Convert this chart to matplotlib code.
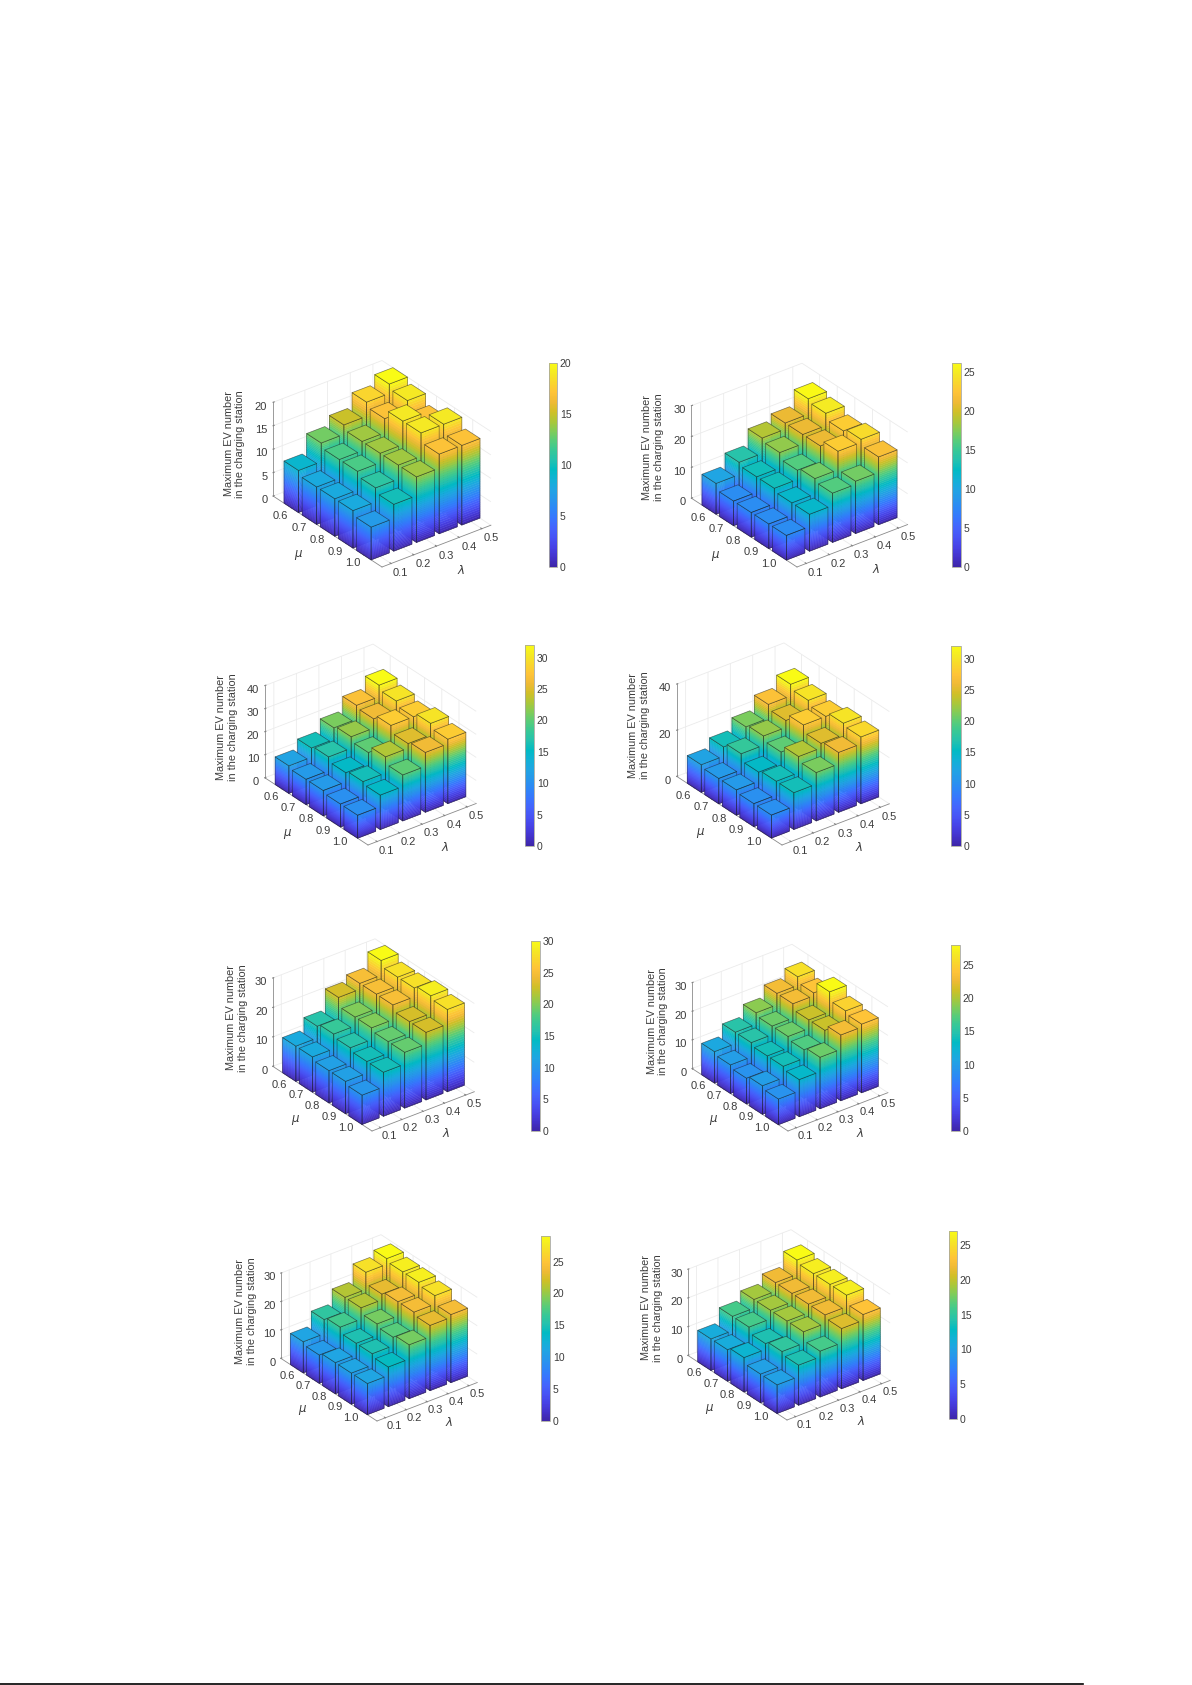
"""Eight 3-D bar panels: maximum EV number in the charging station vs lambda and mu."""

import numpy as np
import matplotlib
matplotlib.use("Agg")
import matplotlib.pyplot as plt
from matplotlib.cm import ScalarMappable
from matplotlib.colors import LinearSegmentedColormap, Normalize
from matplotlib.lines import Line2D
from mpl_toolkits.mplot3d import proj3d
from mpl_toolkits.mplot3d.art3d import Poly3DCollection

plt.rcParams["font.family"] = ["Liberation Sans", "DejaVu Sans"]
plt.rcParams["mathtext.fontset"] = "dejavusans"

FIG_W, FIG_H = 1192, 1685
TEXT_COLOR = "#3c3c3c"
GRID_COLOR = "#ebebeb"

lambda_labels = ["0.1", "0.2", "0.3", "0.4", "0.5"]
mu_labels = ["0.6", "0.7", "0.8", "0.9", "1.0"]
z_label = "Maximum EV number\nin the charging station"

# rows: lambda 0.1 -> 0.5, columns: mu 0.6 -> 1.0
values_1 = [[9, 8, 8, 8, 7], [13, 12, 12, 11, 10], [15, 14, 14, 14, 14],
            [18, 17, 19, 19, 17], [20, 19, 17, 19, 17]]
values_2 = [[10, 8, 8, 8, 8], [14, 13, 13, 12, 12], [19, 18, 16, 17, 16],
            [21, 21, 21, 23, 17], [26, 25, 23, 24, 22]]
values_3 = [[12, 11, 11, 10, 10], [16, 17, 15, 16, 15], [21, 22, 20, 23, 20],
            [27, 26, 28, 25, 26], [32, 30, 28, 30, 28]]
values_4 = [[12, 11, 11, 10, 10], [16, 18, 15, 16, 16], [21, 22, 20, 23, 21],
            [27, 25, 28, 25, 26], [32, 30, 28, 30, 29]]
values_5 = [[12, 12, 11, 11, 10], [16, 17, 16, 15, 15], [23, 20, 20, 19, 19],
            [25, 25, 25, 23, 23], [30, 28, 28, 29, 28]]
values_6 = [[11, 10, 9, 10, 9], [15, 15, 14, 14, 13], [19, 18, 18, 17, 18],
            [23, 23, 21, 21, 23], [26, 24, 28, 25, 24]]
values_7 = [[11, 10, 11, 11, 11], [16, 17, 15, 15, 14], [21, 21, 19, 18, 19],
            [27, 23, 24, 24, 23], [29, 28, 28, 27, 24]]
values_8 = [[11, 11, 12, 10, 10], [16, 16, 14, 15, 14], [19, 19, 19, 19, 16],
            [22, 22, 22, 22, 21], [27, 26, 26, 26, 23]]

z_ticks = [[0, 5, 10, 15, 20], [0, 10, 20, 30], [0, 10, 20, 30, 40], [0, 20, 40],
           [0, 10, 20, 30], [0, 10, 20, 30], [0, 10, 20, 30], [0, 10, 20, 30]]
cbar_top = [20, 26.2, 32, 32, 30, 28, 29, 27]
cbar_ticks = [[0, 5, 10, 15, 20], [0, 5, 10, 15, 20, 25], [0, 5, 10, 15, 20, 25, 30],
              [0, 5, 10, 15, 20, 25, 30], [0, 5, 10, 15, 20, 25, 30],
              [0, 5, 10, 15, 20, 25], [0, 5, 10, 15, 20, 25], [0, 5, 10, 15, 20, 25]]

# floor corners of each 3-D box in image pixels: front, right, left x, z-axis height
front_px = [(382, 567), (797, 567), (368, 845), (782, 845),
            (372, 1131), (788, 1131), (377, 1421), (787, 1420)]
right_px = [(490, 523), (907, 523), (476, 803), (889, 803),
            (474, 1091), (888, 1093), (477, 1382), (890, 1380)]
left_x_px = [274, 692, 265, 677, 273, 692, 281, 688]
z_height_px = [93, 92, 92, 92, 88, 86, 85, 86]
# colourbar boxes in image pixels: left, top, right, bottom
cbar_px = [(549, 363, 557, 567), (952, 363, 961, 567), (525, 645, 534, 846),
           (951, 646, 961, 846), (531, 941, 540, 1131), (951, 945, 960, 1131),
           (541, 1236, 550, 1421), (949, 1231, 957, 1419)]

parula = [(.2422, .1504, .6603), (.2647, .1978, .7952), (.2783, .2559, .8991),
          (.2810, .3228, .9579), (.2699, .3892, .9906), (.2206, .4603, .9973),
          (.1786, .5289, .9682), (.1540, .5902, .9218), (.1248, .6459, .8883),
          (.0689, .6948, .8394), (.0067, .7312, .7660), (.1408, .7584, .6842),
          (.2161, .7843, .5923), (.3406, .8008, .4789), (.5044, .7993, .3480),
          (.6720, .7793, .2227), (.8203, .7498, .1535), (.9393, .7288, .2100),
          (.9970, .7659, .2199), (.9786, .8386, .1766), (.9597, .9135, .1423),
          (.9769, .9839, .0805)]
cmap = LinearSegmentedColormap.from_list("parula", parula, N=256)

X_LIM = (0.6, 5.4)
Y_LIM = (6.0, 0.0)   # mu grows toward the viewer
BAR_W = 0.8


def px_rect(left, top, right, bottom):
    return [left / FIG_W, 1 - bottom / FIG_H, (right - left) / FIG_W, (bottom - top) / FIG_H]


def to_px(ax, x, y, z):
    xs, ys, _ = proj3d.proj_transform(x, y, z, ax.get_proj())
    return ax.transData.transform((xs, ys))


def draw_bar(ax, x, y, value, norm, rank):
    x0, x1 = x - BAR_W / 2, x + BAR_W / 2
    y0, y1 = y - BAR_W / 2, y + BAR_W / 2
    levels = np.linspace(0, value, 36)
    polys, colors = [], []
    for lo, hi in zip(levels[:-1], levels[1:]):
        colour = cmap(norm((lo + hi) / 2))
        polys.append([(x0, y0, lo), (x0, y1, lo), (x0, y1, hi), (x0, y0, hi)])
        polys.append([(x0, y1, lo), (x1, y1, lo), (x1, y1, hi), (x0, y1, hi)])
        colors += [colour, colour]
    sides = Poly3DCollection(polys, facecolors=colors, edgecolors=colors, linewidths=0.3)
    sides.set_zorder(rank)
    ax.add_collection3d(sides, autolim=False)

    top = [(x0, y0, value), (x1, y0, value), (x1, y1, value), (x0, y1, value)]
    outline = Poly3DCollection(
        [top,
         [(x0, y0, 0), (x0, y1, 0), (x0, y1, value), (x0, y0, value)],
         [(x0, y1, 0), (x1, y1, 0), (x1, y1, value), (x0, y1, value)]],
        facecolors=[cmap(norm(value)), (0, 0, 0, 0), (0, 0, 0, 0)],
        edgecolors=[(0.1, 0.1, 0.1, 0.55)], linewidths=0.5)
    outline.set_zorder(rank + 0.5)
    ax.add_collection3d(outline, autolim=False)


def draw_panel(fig, n, values):
    ticks = z_ticks[n]
    z_top = ticks[-1]
    ax = fig.add_axes(px_rect(0, 0, 300, 300), projection="3d", proj_type="ortho",
                      computed_zorder=False)
    ax.patch.set_alpha(0)
    ax.set_xlim(*X_LIM, view_margin=0)
    ax.set_ylim(*Y_LIM, view_margin=0)
    ax.set_zlim(0, z_top, view_margin=0)
    ax.view_init(elev=30, azim=-127.5)

    fx, fy = front_px[n]
    rx, ry = right_px[n]
    side = np.hypot(rx - fx, ry - fy)
    step = (rx - fx) / (4.8 * np.sin(np.radians(52.5)))
    aspect = (4.8, (fx - left_x_px[n]) / (step * np.cos(np.radians(52.5))),
              z_height_px[n] / (np.cos(np.radians(30)) * step))
    ax.set_box_aspect(aspect, zoom=1)
    ax.apply_aspect()

    # scale and shift the box so its floor corners land on the measured pixels
    a = to_px(ax, X_LIM[0], Y_LIM[0], 0)
    b = to_px(ax, X_LIM[1], Y_LIM[0], 0)
    ax.set_box_aspect(aspect, zoom=side / np.hypot(*(b - a)))
    a = to_px(ax, X_LIM[0], Y_LIM[0], 0)
    pos = ax.get_position()
    ax.set_position([pos.x0 + (fx - a[0]) / FIG_W,
                     pos.y0 + ((FIG_H - fy) - a[1]) / FIG_H,
                     pos.width, pos.height])

    norm = Normalize(0, cbar_top[n])
    order = sorted(((i, j) for i in range(5) for j in range(5)),
                   key=lambda ij: ij[1] - ij[0])
    for rank, (i, j) in enumerate(order):
        draw_bar(ax, i + 1, j + 1, values[i][j], norm, 10 + rank)

    ax.set_xticks(range(1, 6), lambda_labels)
    ax.set_yticks(range(1, 6), mu_labels)
    ax.set_zticks(ticks)
    ax.tick_params(axis="both", labelsize=8, labelcolor=TEXT_COLOR, pad=2,
                   color="#808080", width=0.5, length=2)
    ax.tick_params(axis="y", pad=3)
    ax.tick_params(axis="z", pad=-5)
    for axis in (ax.xaxis, ax.yaxis):
        for tick in axis.get_major_ticks():
            tick.label1.set_va("bottom")
    for tick in ax.zaxis.get_major_ticks():
        tick.label1.set_ha("right")

    ax.xaxis.set_rotate_label(False)
    ax.yaxis.set_rotate_label(False)
    ax.zaxis.set_rotate_label(False)
    ax.set_xlabel(r"$\lambda$", fontsize=8.5, color=TEXT_COLOR, labelpad=0)
    ax.set_ylabel(r"$\mu$", fontsize=8.5, color=TEXT_COLOR, labelpad=4)
    ax.set_zlabel(z_label, rotation=90, fontsize=7.8, color=TEXT_COLOR,
                  labelpad=-1, linespacing=1.2)
    ax.xaxis._axinfo["label"].update(ha="left", va="bottom")
    ax.yaxis._axinfo["label"].update(ha="right", va="bottom")
    for axis in (ax.xaxis, ax.yaxis, ax.zaxis):
        axis.set_pane_color((1, 1, 1, 0))
        axis.pane.set_edgecolor(GRID_COLOR)
        axis.line.set_color("#8a8a8a")
        axis.line.set_linewidth(0.6)
        axis._axinfo["grid"].update(color=GRID_COLOR, linewidth=0.6)
        axis._axinfo["tick"].update(inward_factor=0.0, outward_factor=0.12)

    cax = fig.add_axes(px_rect(*cbar_px[n]))
    cb = fig.colorbar(ScalarMappable(norm=norm, cmap=cmap), cax=cax, ticks=cbar_ticks[n])
    cb.ax.tick_params(labelsize=7.5, labelcolor=TEXT_COLOR, length=0, pad=2)
    cb.outline.set_edgecolor("#a8a8a0")
    cb.outline.set_linewidth(0.6)


def main():
    fig = plt.figure(figsize=(FIG_W / 100, FIG_H / 100), dpi=100)
    panels = [values_1, values_2, values_3, values_4,
              values_5, values_6, values_7, values_8]
    for n, values in enumerate(panels):
        draw_panel(fig, n, values)

    # rule at the page foot
    fig.add_artist(Line2D([0, 1083 / FIG_W], [1 / FIG_H, 1 / FIG_H],
                          color="black", linewidth=1.2))
    fig.savefig("out.png", dpi=100)


if __name__ == "__main__":
    main()
